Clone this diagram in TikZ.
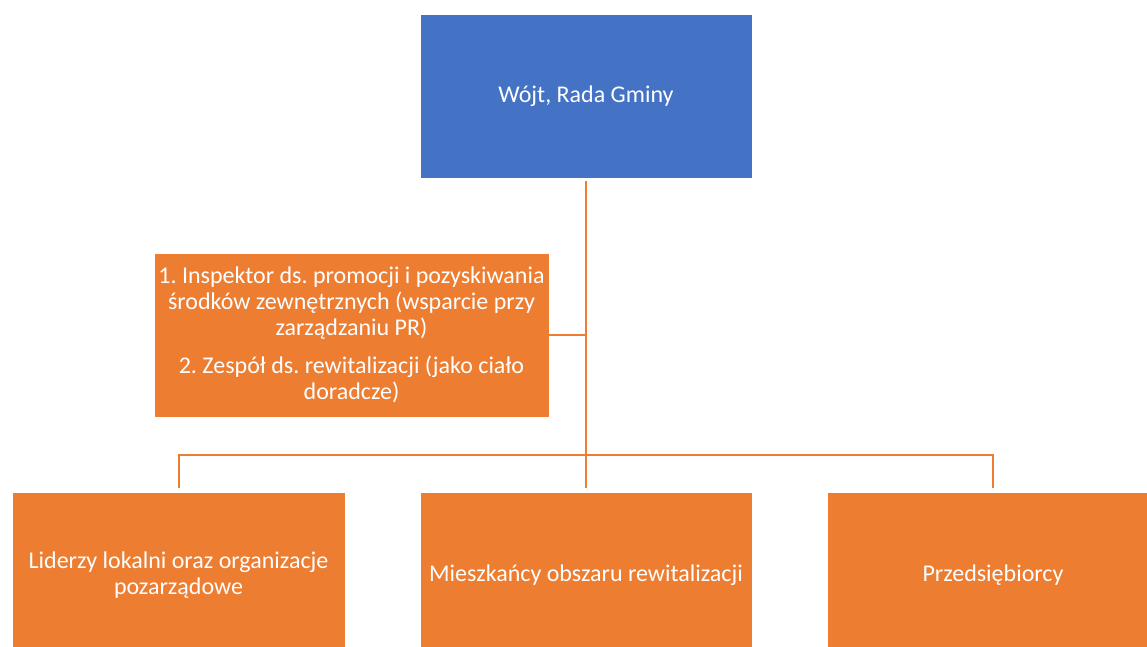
\documentclass[tikz,border=0pt]{standalone}
\usepackage{fontspec}
\setmainfont{Carlito}
\frenchspacing
\definecolor{offblue}{HTML}{4472C4}
\definecolor{offorange}{HTML}{ED7D31}
\tikzset{
  box/.style={rectangle, draw=white, line width=0.8pt, text=white, align=center,
    font=\fontsize{24}{26}\selectfont\frenchspacing, inner sep=0pt},
  bluebox/.style={box, fill=offblue},
  orangebox/.style={box, fill=offorange},
  conn/.style={draw=offorange, line width=2pt}
}
\begin{document}
\begin{tikzpicture}[x=1pt,y=-1pt]
\useasboundingbox (0,0) rectangle (1147,647);
\clip (0,0) rectangle (1147,647);
\node[bluebox, minimum width=332pt, minimum height=164pt] (top) at (586,96) {Wójt, Rada Gminy};
\node[orangebox, minimum width=395pt, minimum height=164pt] (mid) at (351.5,335)
  {1. Inspektor ds. promocji i pozyskiwania\\ środków zewnętrznych (wsparcie przy\\ zarządzaniu PR)\\[12pt] 2. Zespół ds. rewitalizacji (jako ciało\\ doradcze)};
\node[orangebox, minimum width=333pt, minimum height=166pt] (left) at (178.5,575) {Liderzy lokalni oraz organizacje\\ pozarządowe};
\node[orangebox, minimum width=332pt, minimum height=166pt] (center) at (586,575) {Mieszkańcy obszaru rewitalizacji};
\node[orangebox, minimum width=332pt, minimum height=166pt] (right) at (993,575) {Przedsiębiorcy};
\coordinate (j) at (586,455);
\draw[conn, shorten <=3pt] (top.south) -- (j);
\draw[conn] (mid.east) -- (mid.east -| top.south);
\draw[conn, shorten >=4pt] (j) -| (left.north);
\draw[conn, shorten >=4pt] (j) -- (center.north);
\draw[conn, shorten >=4pt] (j) -| (right.north);
\end{tikzpicture}
\end{document}
